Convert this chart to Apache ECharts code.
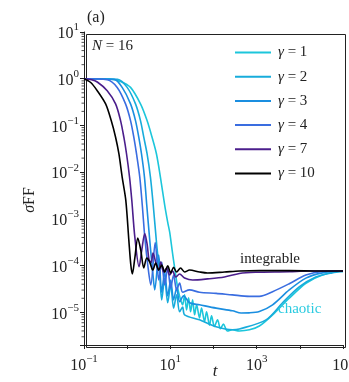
<!DOCTYPE html>
<html>
<head>
<meta charset="utf-8">
<script src="https://cdn.jsdelivr.net/npm/echarts@6/dist/echarts.min.js"></script>
<style>
  html, body { margin: 0; padding: 0; background: #fff; }
  #chart { width: 349px; height: 382px; }
</style>
</head>
<body>
<div id="chart"></div>
<script>
// sigma_FF vs t, N = 16, one curve per gamma ([t, value] pairs)
const gamma1 = [
  [0.1, 1.0], [0.4, 0.99], [0.703, 0.876], [1.197, 0.652], [2.035, 0.289], [2.89, 0.127],
  [3.77, 0.056], [4.76, 0.0248], [5.89, 7.86e-3], [7.4, 1.96e-3], [8.68, 8.5e-4], [9.66, 5.2e-4],
  [11.0, 2.15e-4], [12.6, 8.9e-5], [14.8, 3.33e-5], [17.3, 1.85e-5], [19.3, 1.45e-5], [21.4, 2.36e-5],
  [23.8, 1.13e-5], [26.5, 2.04e-5], [29.5, 1.03e-5], [32.8, 1.85e-5], [36.5, 8.85e-6], [40.6, 1.45e-5],
  [47.5, 7.63e-6], [52.8, 1.23e-5], [62, 6.3e-6], [69, 1.03e-5], [80.9, 5.3e-6], [90, 8.4e-6],
  [105, 4.98e-6], [124, 6.92e-6], [145, 4.45e-6], [170, 5.6e-6], [210, 4.0e-6], [275, 4.23e-6],
  [398, 4.0e-6], [678, 4.23e-6], [1153, 5.1e-6], [2340, 8.85e-6], [5680, 2.0e-5], [13800, 4.2e-5],
  [33300, 6.3e-5], [80900, 7.5e-5], [100000, 7.5e-5]
];
const gamma2 = [
  [0.1, 1.0], [0.6, 0.97], [1.0, 0.652], [1.56, 0.289], [2.035, 0.127], [2.425, 0.056],
  [2.89, 0.0248], [3.46, 7.86e-3], [4.02, 1.96e-3], [4.84, 2.75e-4], [5.68, 6.3e-5], [6.31, 1.85e-5],
  [7.4, 5.44e-5], [8.68, 1.6e-5], [10.2, 3.86e-5], [11.9, 1.23e-5], [14.0, 2.36e-5], [16.4, 1.03e-5],
  [19.3, 1.3e-5], [21.4, 8.85e-6], [47.5, 6.92e-6], [115, 4.9e-6], [275, 4.23e-6], [398, 4.4e-6],
  [1648, 6.9e-6], [3981, 1.6e-5], [9660, 3.5e-5], [23400, 5.7e-5], [55800, 7.0e-5], [100000, 7.5e-5]
];
const gamma3 = [
  [0.1, 1.0], [0.5, 0.97], [0.766, 0.652], [1.197, 0.289], [1.56, 0.127], [1.857, 0.056],
  [2.146, 0.0248], [2.517, 7.86e-3], [2.845, 1.96e-3], [3.334, 3.51e-4], [3.91, 7.3e-5], [4.35, 3.02e-5],
  [5.38, 1.68e-4], [6.31, 2.7e-5], [7.4, 7.3e-5], [8.68, 2.25e-5], [10.2, 4.93e-5], [11.9, 1.85e-5],
  [14.0, 3.33e-5], [16.4, 1.68e-5], [20.3, 2.25e-5], [27.9, 1.6e-5], [47.5, 1.45e-5], [115, 1.23e-5],
  [275, 1.08e-5], [435, 9.7e-6], [678, 9.76e-6], [1153, 1.04e-5], [2340, 1.45e-5], [5680, 3.02e-5],
  [13800, 5.4e-5], [33300, 7.0e-5], [100000, 7.67e-5]
];
const gamma4 = [
  [0.1, 1.0], [0.345, 0.95], [0.587, 0.652], [0.917, 0.289], [1.197, 0.127], [1.425, 0.056],
  [1.644, 0.0248], [1.959, 7.86e-3], [2.24, 1.96e-3], [2.558, 4.13e-4], [3.0, 1.03e-4], [3.52, 3.86e-5],
  [4.47, 3.1e-4], [5.38, 4.93e-5], [6.31, 1.19e-4], [7.4, 3.86e-5], [8.68, 8.9e-5], [10.2, 3.33e-5],
  [11.9, 6.3e-5], [14.0, 3.02e-5], [16.4, 4.26e-5], [19.3, 2.7e-5], [27.9, 3.02e-5], [47.5, 2.7e-5],
  [115, 2.55e-5], [275, 2.36e-5], [678, 2.2e-5], [1153, 2.2e-5], [2340, 2.77e-5], [5680, 4.1e-5],
  [13800, 6.3e-5], [33300, 7.5e-5], [100000, 7.67e-5]
];
const gamma7 = [
  [0.1, 1.0], [0.15, 0.95], [0.203, 0.85], [0.345, 0.555], [0.539, 0.289], [0.703, 0.127],
  [0.838, 0.056], [0.966, 0.0248], [1.135, 7.86e-3], [1.28, 2.5e-3], [1.503, 4.13e-4], [1.89, 9.46e-5],
  [2.18, 2.15e-4], [2.558, 4.88e-4], [2.92, 2.75e-4], [3.214, 1.32e-4], [3.61, 1.19e-4], [3.97, 1.86e-4],
  [4.76, 1.03e-4], [5.38, 8.05e-5], [5.98, 1.19e-4], [7.0, 7.3e-5], [8.2, 8.9e-5], [9.66, 6.3e-5],
  [11.3, 7.67e-5], [13.3, 5.7e-5], [16.4, 6.6e-5], [21.4, 5.44e-5], [32.8, 4.93e-5], [72.7, 5.2e-5],
  [179, 5.71e-5], [398, 6.8e-5], [933, 7.2e-5], [5680, 7.4e-5], [15000, 7.67e-5], [100000, 7.67e-5]
];
const gamma10 = [
  [0.1, 1.0], [0.143, 0.83], [0.203, 0.555], [0.317, 0.289], [0.427, 0.127], [0.539, 0.056],
  [0.643, 0.0248], [0.766, 7.86e-3], [0.93, 2.5e-3], [1.093, 3.51e-4], [1.216, 1.03e-4], [1.315, 6.62e-5],
  [1.503, 1.45e-4], [1.762, 3.87e-4], [2.066, 2.15e-4], [2.425, 8.88e-5], [2.845, 1.45e-4], [3.334, 1.19e-4],
  [3.91, 8.05e-5], [4.59, 1.13e-4], [5.38, 8.05e-5], [6.31, 1.03e-4], [7.4, 7.31e-5], [8.68, 9.9e-5],
  [10.2, 6.95e-5], [11.9, 9.2e-5], [14.0, 7.3e-5], [17.3, 8.9e-5], [21.4, 7.3e-5], [27.9, 8.05e-5],
  [47.5, 7.3e-5], [72.7, 6.95e-5], [179, 7.3e-5], [398, 7.67e-5], [1153, 7.8e-5], [5680, 7.8e-5],
  [28000, 7.67e-5], [100000, 7.67e-5]
];

const seriesNames = ['γ = 1', 'γ = 2', 'γ = 3', 'γ = 4', 'γ = 7', 'γ = 10'];
const seriesData = [gamma1, gamma2, gamma3, gamma4, gamma7, gamma10];
const colors = ['#1cc6db', '#17acdb', '#1a8ee0', '#3a6de0', '#4b1e8c', '#000000'];

const xMin = 0.1, xMax = 1e5;
const yMin = 2e-6, yMax = 10;
const minorMult = [2, 3, 4, 5, 6, 7, 8, 9];
const yDecades = [-6, -5, -4, -3, -2, -1, 0];

const serif = 'Liberation Serif';
const yMinorTicks = [];
yDecades.forEach(k => minorMult.forEach(m => {
  const v = m * Math.pow(10, k);
  if (v > yMin && v < yMax) yMinorTicks.push([xMin, v]);
}));

function powLabel(v, oddOnly) {
  const l = Math.log10(v);
  const e = Math.round(l);
  if (Math.abs(l - e) > 1e-6) return '';
  if (oddOnly && Math.abs(e) % 2 !== 1) return '';
  return '{b|10}{s|' + (e < 0 ? '\u2212' + (-e) : e) + '}';
}

const richPow = {
  b: { fontFamily: serif, fontSize: 16, color: '#222', lineHeight: 20, verticalAlign: 'bottom' },
  s: { fontFamily: serif, fontSize: 11, color: '#222', lineHeight: 12, verticalAlign: 'top' }
};

const chart = echarts.init(document.getElementById('chart'));

const lineSeries = seriesData.map((d, i) => ({
  name: seriesNames[i],
  type: 'line',
  data: d,
  showSymbol: false,
  smooth: 0.3,
  lineStyle: { width: 1.6, color: colors[i] },
  itemStyle: { color: colors[i] },
  z: 2 + i
}));

const option = {
  animation: false,
  grid: { left: 84, right: 6, top: 32, bottom: 37, outerBoundsMode: 'none' },
  xAxis: {
    type: 'log',
    min: xMin,
    max: xMax,
    axisLine: { lineStyle: { color: '#222', width: 1 } },
    axisTick: { inside: false, length: 4, lineStyle: { color: '#222' } },
    axisLabel: { formatter: v => powLabel(v, true), rich: richPow, margin: 9 },
    splitLine: { show: false }
  },
  yAxis: {
    type: 'log',
    min: yMin,
    max: yMax,
    axisLine: { lineStyle: { color: '#222', width: 1 } },
    axisTick: { inside: false, length: 4, lineStyle: { color: '#222' } },
    axisLabel: { formatter: v => powLabel(v, false), rich: richPow, margin: 5 },
    splitLine: { show: false }
  },
  legend: {
    data: seriesNames,
    orient: 'vertical',
    left: 230,
    top: 40,
    icon: 'rect',
    itemWidth: 36,
    itemHeight: 2,
    itemGap: 9.2,
    formatter: n => '{g|γ}{t| ' + n.slice(2) + '}',
    textStyle: {
      padding: [0, 0, 0, 2],
      rich: {
        g: { fontFamily: serif, fontStyle: 'italic', fontSize: 15, color: '#222', lineHeight: 16 },
        t: { fontFamily: serif, fontSize: 15, color: '#222', lineHeight: 16 }
      }
    }
  },
  graphic: [
    // frame top / right
    { type: 'rect', left: 84, top: 32, shape: { width: 259, height: 313 }, style: { fill: 'none', stroke: '#222', lineWidth: 1 }, silent: true, z: 0 },
    { type: 'text', left: 87, top: 10, style: { text: '(a)', font: '16px ' + serif, fill: '#222' } },
    { type: 'text', left: 92, top: 39, style: { text: '{i|N} = 16', font: '15px ' + serif, fill: '#222',
      rich: { i: { fontFamily: serif, fontStyle: 'italic', fontSize: 15 } } } },
    { type: 'text', x: 30, y: 200, rotation: Math.PI / 2, style: { text: '{i|σ}FF', font: '16px ' + serif, fill: '#222',
      align: 'center', verticalAlign: 'middle', rich: { i: { fontFamily: serif, fontStyle: 'italic', fontSize: 16 } } } },
    { type: 'text', x: 215, y: 372, style: { text: 't', font: 'italic 17px ' + serif, fill: '#222', align: 'center', verticalAlign: 'middle' } },
    { type: 'text', x: 240, y: 259, style: { text: 'integrable', font: '15px ' + serif, fill: '#222', verticalAlign: 'middle' }, z: 20 },
    { type: 'text', x: 278, y: 309, style: { text: 'chaotic', font: '15px ' + serif, fill: '#2ccbe0', verticalAlign: 'middle' }, z: 20 }
  ],
  series: lineSeries.concat([{
    type: 'custom',
    silent: true,
    clip: false,
    data: yMinorTicks,
    renderItem: (params, api) => {
      const p = api.coord([api.value(0), api.value(1)]);
      return { type: 'line', shape: { x1: p[0] - 2.5, y1: p[1], x2: p[0], y2: p[1] }, style: { stroke: '#222', lineWidth: 0.8 } };
    }
  }])
};

chart.setOption(option);
</script>
</body>
</html>
